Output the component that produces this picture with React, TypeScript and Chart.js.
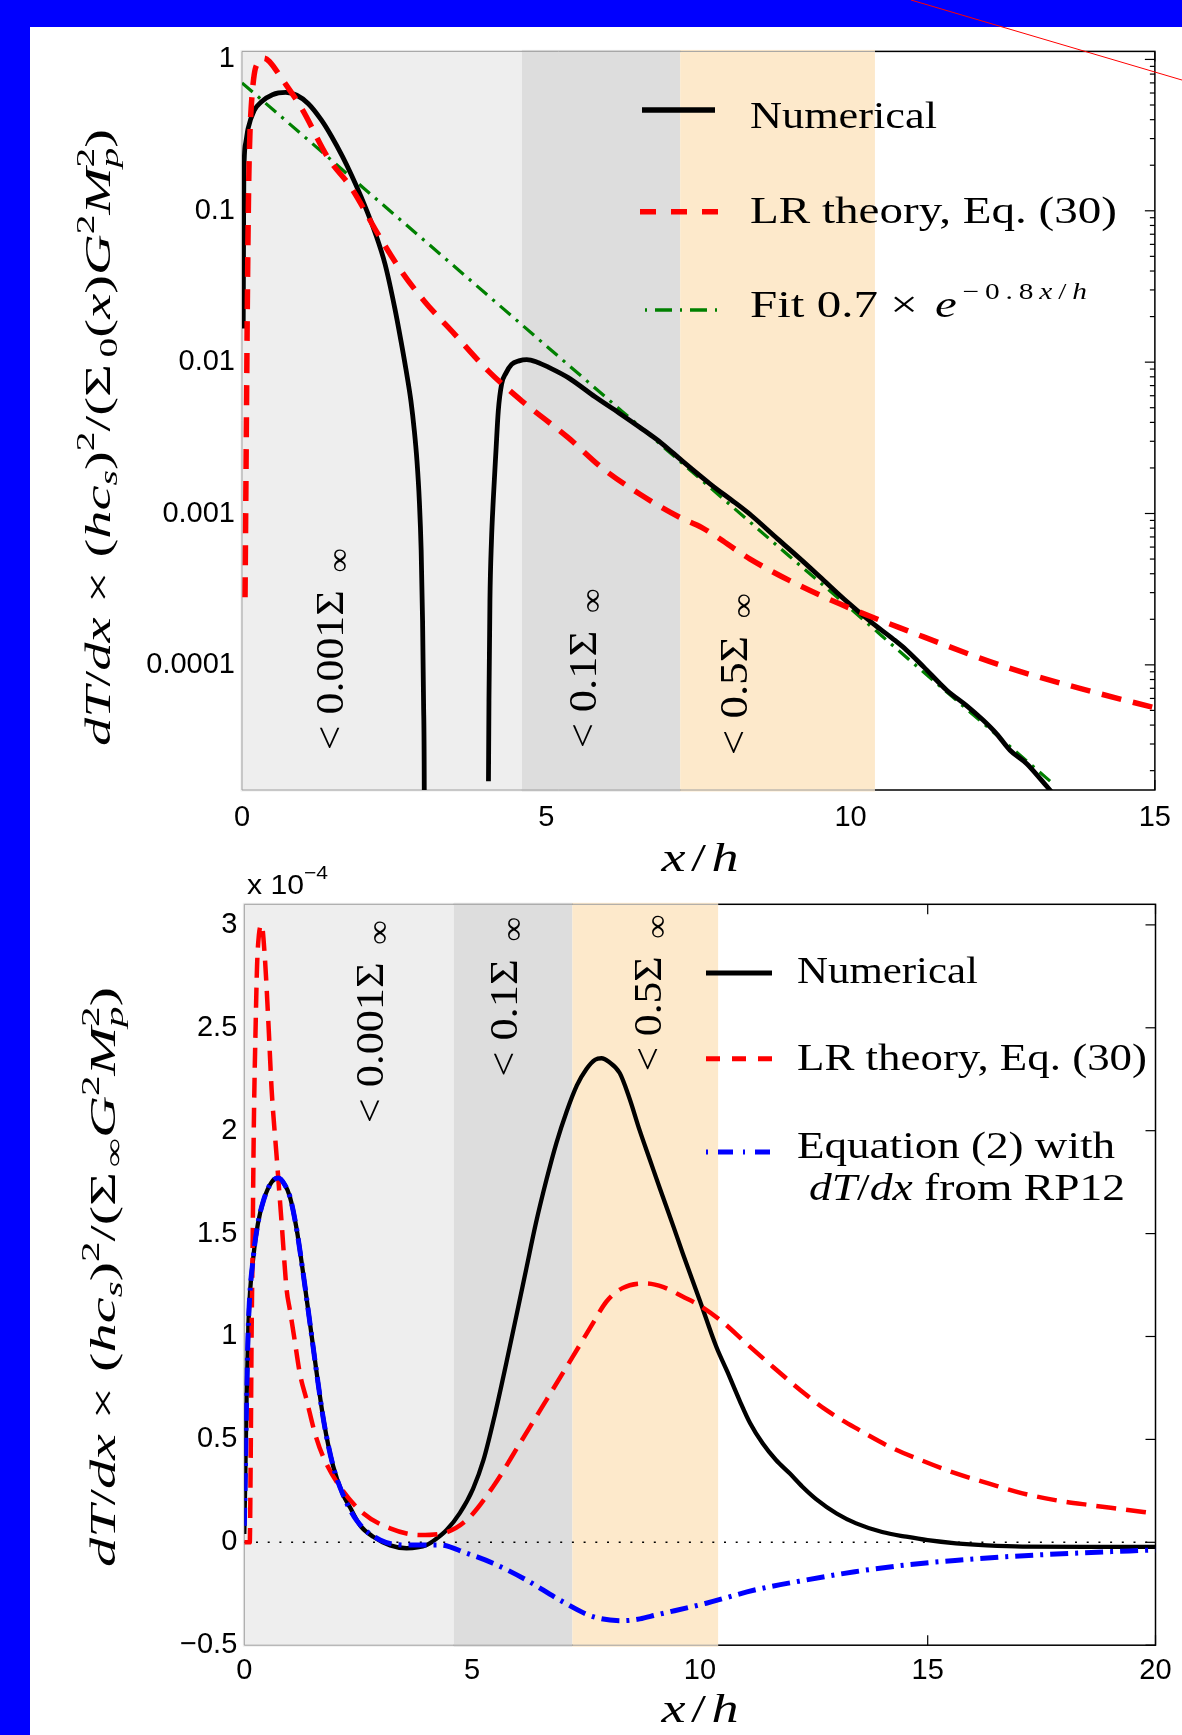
import React, { useEffect, useRef } from 'react';
import { Chart, registerables } from 'chart.js';

Chart.register(...registerables);

// ================= TOP PANEL (log scale) =================
const topXTicks = [0, 5, 10, 15];
const topYTickLabels = ['1', '0.1', '0.01', '0.001', '0.0001'];

// Numerical, first branch (goes negative near x = 3)
const topNumAX = [0.02, 0.025, 0.03, 0.06, 0.1, 0.2, 0.32, 0.5, 0.72, 0.9, 1.09, 1.3, 1.47, 1.65, 1.8, 2.0, 2.19, 2.35, 2.51, 2.613, 2.699, 2.776, 2.832, 2.875, 2.914, 2.944, 2.967, 2.983, 2.995, 3.005];
const topNumAY = [0.0167, 0.06, 0.17, 0.28, 0.35, 0.46, 0.525, 0.585, 0.605, 0.58, 0.51, 0.4, 0.311, 0.2287, 0.1717, 0.1125, 0.0712, 0.0445, 0.0228, 0.01375, 0.00872, 0.00553, 0.00351, 0.002226, 0.001213, 0.000568, 0.000196, 0.0000582, 0.0000149, 0.0000001];
// Numerical, second branch
const topNumBX = [4.05, 4.058, 4.074, 4.099, 4.128, 4.173, 4.211, 4.266, 4.337, 4.43, 4.55, 4.68, 4.85, 5.05, 5.36, 5.8, 6.2, 6.54, 6.9, 7.22, 7.7, 8.1, 8.37, 8.8, 9.2, 9.5, 9.9, 10.37, 10.7, 10.92, 11.2, 11.58, 11.9, 12.18, 12.4, 12.62, 12.89, 13.1, 13.3];
const topNumBY = [0.000017, 0.000058, 0.000266, 0.00066, 0.00121, 0.00259, 0.00475, 0.00716, 0.00846, 0.00966, 0.0102, 0.0104, 0.01, 0.0092, 0.0079, 0.0059, 0.0046, 0.0037, 0.0029, 0.00225, 0.00156, 0.00118, 0.00097, 0.00068, 0.00049, 0.00038, 0.00027, 0.000187, 0.000148, 0.000125, 0.000097, 0.000068, 0.000054, 0.000043, 0.000035, 0.0000273, 0.0000223, 0.000018, 0.0000145];
// LR theory, Eq. (30)
const topLrX = [0.05, 0.07, 0.09, 0.11, 0.13, 0.15, 0.2, 0.27, 0.36, 0.45, 0.65, 0.98, 1.42, 1.8, 2.24, 2.62, 3.0, 3.5, 4.05, 4.6, 5.36, 5.91, 6.54, 7.2, 7.55, 8.35, 9.0, 9.82, 10.92, 12.56, 14.0, 15.0];
const topLrY = [0.00028, 0.003, 0.03, 0.15, 0.32, 0.475, 0.79, 0.96, 1.02, 0.97, 0.75, 0.475, 0.222, 0.141, 0.0695, 0.0398, 0.0252, 0.0152, 0.00873, 0.00553, 0.00317, 0.00201, 0.00134, 0.00094, 0.00081, 0.0005, 0.00036, 0.000253, 0.000169, 0.0000966, 0.000066, 0.000052];
// Fit 0.7 x exp(-0.8 x/h)
const topFitX = [0, 1, 2, 3, 4, 5, 6, 7, 8, 9, 10, 11, 12, 13, 13.35];
const topFitY = [0.7, 0.315, 0.141, 0.0635, 0.0285, 0.0128, 0.00576, 0.00259, 0.00116, 0.00052, 0.000235, 0.000105, 0.0000474, 0.0000213, 0.0000161];

// ================= BOTTOM PANEL (linear, x 10^-4) =================
const botXTicks = [0, 5, 10, 15, 20];
const botYTicks = [-0.5, 0, 0.5, 1, 1.5, 2, 2.5, 3];

const botNumX = [0, 0.02, 0.05, 0.09, 0.2, 0.3, 0.42, 0.6, 0.75, 0.88, 1.0, 1.15, 1.29, 1.45, 1.59, 1.75, 1.95, 2.15, 2.32, 2.55, 2.83, 3.2, 3.56, 3.8, 4.0, 4.2, 4.44, 4.73, 5.02, 5.25, 5.5, 5.75, 6.0, 6.19, 6.4, 6.63, 6.85, 7.07, 7.3, 7.51, 7.7, 7.84, 8.0, 8.24, 8.45, 8.68, 8.9, 9.12, 9.41, 9.63, 9.99, 10.36, 10.6, 10.87, 11.1, 11.38, 11.67, 11.97, 12.25, 12.55, 13.0, 13.43, 14.0, 14.53, 15.0, 15.62, 16.3, 17.08, 18.5, 20];
const botNumY = [0.04, 0.3, 0.7, 1.06, 1.39, 1.55, 1.66, 1.75, 1.77, 1.74, 1.68, 1.52, 1.31, 1.05, 0.82, 0.58, 0.37, 0.24, 0.17, 0.08, 0.027, -0.015, -0.029, -0.025, -0.013, 0.015, 0.06, 0.142, 0.26, 0.4, 0.62, 0.87, 1.13, 1.33, 1.55, 1.76, 1.94, 2.09, 2.22, 2.3, 2.345, 2.352, 2.335, 2.28, 2.16, 2.0, 1.86, 1.72, 1.54, 1.4, 1.18, 0.95, 0.83, 0.69, 0.58, 0.48, 0.4, 0.335, 0.27, 0.21, 0.14, 0.092, 0.05, 0.027, 0.01, -0.005, -0.015, -0.021, -0.022, -0.022];

const botLrX = [0, 0.12, 0.14, 0.16, 0.18, 0.21, 0.25, 0.28, 0.32, 0.38, 0.45, 0.53, 0.6, 0.71, 0.82, 0.93, 1.0, 1.1, 1.22, 1.37, 1.55, 1.73, 2.1, 2.61, 3.2, 3.85, 4.36, 4.88, 5.46, 6.05, 6.63, 7.21, 7.65, 7.95, 8.3, 8.82, 9.2, 9.63, 10.0, 10.5, 11.0, 11.6, 12.2, 12.77, 13.5, 14.16, 14.9, 15.62, 16.35, 17.08, 17.8, 18.55, 19.3, 20];
const botLrY = [0, 0, 0.4, 1.0, 1.39, 2.04, 2.52, 2.8, 2.95, 3.0, 2.845, 2.52, 2.2, 1.874, 1.55, 1.226, 1.13, 0.99, 0.82, 0.69, 0.53, 0.416, 0.27, 0.141, 0.068, 0.035, 0.044, 0.108, 0.27, 0.481, 0.691, 0.902, 1.064, 1.17, 1.235, 1.258, 1.24, 1.193, 1.15, 1.07, 0.97, 0.853, 0.74, 0.643, 0.545, 0.465, 0.395, 0.335, 0.285, 0.238, 0.205, 0.181, 0.16, 0.14];

const botEqX = [0, 0.02, 0.05, 0.09, 0.2, 0.3, 0.42, 0.6, 0.75, 0.88, 1.0, 1.15, 1.29, 1.45, 1.59, 1.75, 1.95, 2.15, 2.46, 2.98, 3.56, 4.29, 4.88, 5.46, 6.19, 6.92, 7.65, 8.31, 8.68, 9.04, 10.14, 11.2, 12.33, 13.4, 14.53, 15.6, 16.72, 18.3, 20];
const botEqY = [0.08, 0.3, 0.7, 1.06, 1.39, 1.55, 1.66, 1.75, 1.77, 1.74, 1.68, 1.52, 1.31, 1.05, 0.82, 0.58, 0.37, 0.24, 0.108, 0.011, -0.013, -0.013, -0.053, -0.102, -0.183, -0.28, -0.361, -0.381, -0.372, -0.353, -0.296, -0.232, -0.183, -0.143, -0.11, -0.088, -0.07, -0.052, -0.037];

const zeroX = [0, 20];
const zeroY = [0, 0];

// Shaded regions (x/h edges) and their labels
const bandEdges = [0, 4.6, 7.2, 10.4];
const bandColors = ['#eeeeee', '#dddddd', '#fde9cb'];
const bandText = ['< 0.001Σ', '< 0.1Σ', '< 0.5Σ'];

const topLegendText = ['Numerical', 'LR theory, Eq. (30)', 'Fit 0.7 × '];
const botLegendText = ['Numerical', 'LR theory, Eq. (30)', 'Equation (2) with', ' from RP12'];

// ================= helpers =================
const SERIF = "'Liberation Serif', 'DejaVu Serif', serif";
const SANS = "'Liberation Sans', Arial, sans-serif";

type Seg = { t: string; it?: boolean; s?: number; dy?: number; gap?: number };

const pts = (xs: number[], ys: number[]) => xs.map((x, i) => ({ x, y: ys[i] }));

function fontOf(sg: Seg, size: number, fam: string) {
  return `${sg.it ? 'italic ' : ''}${(size * (sg.s ?? 1)).toFixed(2)}px ${fam}`;
}

function drawRich(ctx: CanvasRenderingContext2D, segs: Seg[], x: number, y: number, size: number, fam: string, target?: number, align: 'left' | 'center' = 'left') {
  let w = 0;
  const ws = segs.map((sg) => {
    ctx.font = fontOf(sg, size, fam);
    const m = ctx.measureText(sg.t).width;
    w += (sg.gap ?? 0) * size + m;
    return m;
  });
  const sx = target ? target / w : 1;
  ctx.save();
  ctx.translate(align === 'center' ? x - (w * sx) / 2 : x, y);
  ctx.scale(sx, 1);
  ctx.fillStyle = '#000';
  ctx.textAlign = 'left';
  ctx.textBaseline = 'alphabetic';
  let cx = 0;
  segs.forEach((sg, i) => {
    cx += (sg.gap ?? 0) * size;
    ctx.font = fontOf(sg, size, fam);
    ctx.fillText(sg.t, cx, -(sg.dy ?? 0) * size);
    cx += ws[i];
  });
  ctx.restore();
}

function seg(ctx: CanvasRenderingContext2D, x0: number, y0: number, x1: number, y1: number) {
  ctx.beginPath();
  ctx.moveTo(x0, y0);
  ctx.lineTo(x1, y1);
  ctx.stroke();
}

function legendLine(ctx: CanvasRenderingContext2D, x0: number, x1: number, y: number, color: string, width: number, dash: number[]) {
  ctx.save();
  ctx.strokeStyle = color;
  ctx.lineWidth = width;
  ctx.lineCap = 'butt';
  ctx.setLineDash(dash);
  seg(ctx, x0, y, x1, y);
  ctx.restore();
}

function ds(label: string, data: any[], color: string, width: number, dash: number[], order: number) {
  return {
    label, data, borderColor: color, backgroundColor: color, borderWidth: width, borderDash: dash,
    pointRadius: 0, fill: false, cubicInterpolationMode: 'monotone', order, borderCapStyle: 'butt',
  };
}

type Decor = {
  id: string;
  yMajor: number[];
  yMinor: number[];
  xTicks: number[];
  regions: { x: number; y: number; len: number }[];
  legendLines: { x0: number; x1: number; y: number; color: string; width: number; dash: number[] }[];
  legendTexts: { segs: Seg[]; x: number; y: number; w: number }[];
  yTitle: { segs: Seg[]; x: number; y: number; len: number };
  xTitle: { x: number; y: number };
  extra?: { segs: Seg[]; x: number; y: number; w: number };
};

function makeDecor(d: Decor) {
  return {
    id: d.id,
    beforeDatasetsDraw(chart: any) {
      const { ctx, chartArea: ca } = chart;
      const xs = chart.scales.x;
      const ys = chart.scales.y;
      const inY = (v: number) => v >= ys.min - 1e-12 && v <= ys.max + 1e-12;
      ctx.save();
      ctx.setLineDash([]);
      ctx.strokeStyle = '#000';
      ctx.lineWidth = 1.5;
      ctx.strokeRect(ca.left, ca.top, ca.right - ca.left, ca.bottom - ca.top);
      ctx.lineWidth = 1.2;
      d.yMajor.forEach((v) => {
        if (!inY(v)) return;
        const p = ys.getPixelForValue(v);
        seg(ctx, ca.right - 10, p, ca.right, p);
        seg(ctx, ca.left, p, ca.left + 10, p);
      });
      d.yMinor.forEach((v) => {
        if (!inY(v)) return;
        const p = ys.getPixelForValue(v);
        seg(ctx, ca.right - 5, p, ca.right, p);
      });
      d.xTicks.forEach((v) => {
        const p = xs.getPixelForValue(v);
        seg(ctx, p, ca.bottom, p, ca.bottom - 10);
        seg(ctx, p, ca.top, p, ca.top + 10);
      });
      // shaded bands
      for (let i = 0; i < bandColors.length; i++) {
        const a = xs.getPixelForValue(bandEdges[i]);
        const b = xs.getPixelForValue(bandEdges[i + 1]);
        const l = i === 0 ? a - 1.5 : a;
        ctx.fillStyle = bandColors[i];
        ctx.fillRect(l, ca.top - 1.5, b - l, ca.bottom - ca.top + 3);
      }
      const b0 = xs.getPixelForValue(bandEdges[0]);
      const b1 = xs.getPixelForValue(bandEdges[bandEdges.length - 1]);
      ctx.strokeStyle = '#a0a0a0';
      ctx.lineWidth = 1;
      seg(ctx, b0, ca.top, b1, ca.top);
      seg(ctx, b0, ca.bottom, b1, ca.bottom);
      seg(ctx, b0, ca.top, b0, ca.bottom);
      // region labels (rotated)
      d.regions.forEach((r, i) => {
        const px = xs.getPixelForValue(r.x);
        const py = ys.getPixelForValue(r.y);
        ctx.save();
        ctx.translate(px, py);
        ctx.rotate(-Math.PI / 2);
        drawRich(ctx, [{ t: bandText[i] }, { t: '∞', s: 0.78, dy: -0.15, gap: 0.4 }], 0, 0, 40, SERIF, r.len);
        ctx.restore();
      });
      ctx.restore();
    },
    afterDraw(chart: any) {
      const { ctx } = chart;
      ctx.save();
      d.legendLines.forEach((l) => legendLine(ctx, l.x0, l.x1, l.y, l.color, l.width, l.dash));
      d.legendTexts.forEach((t) => drawRich(ctx, t.segs, t.x, t.y, 38, SERIF, t.w));
      ctx.save();
      ctx.translate(d.yTitle.x, d.yTitle.y);
      ctx.rotate(-Math.PI / 2);
      drawRich(ctx, d.yTitle.segs, 0, 0, 35, SERIF, d.yTitle.len);
      ctx.restore();
      drawRich(ctx, [{ t: 'x', it: true }, { t: '/', gap: 0.1 }, { t: 'h', it: true, gap: 0.1 }], d.xTitle.x, d.xTitle.y, 40, SERIF, 77, 'center');
      if (d.extra) drawRich(ctx, d.extra.segs, d.extra.x, d.extra.y, 27, SANS, d.extra.w);
      ctx.restore();
    },
  };
}

const decades = [-5, -4, -3, -2, -1, 0];
const logMajor = decades.map((e) => Math.pow(10, e));
const logMinor = decades.flatMap((e) => [2, 3, 4, 5, 6, 7, 8, 9].map((k) => k * Math.pow(10, e)));

const tickFont = { family: SANS, size: 29 };

const TOP_YMIN = 1.49e-5;
const TOP_YMAX = 1.13;

function topConfig(): any {
  const yTitle: Seg[] = [
    { t: 'dT', it: true }, { t: '/' }, { t: 'dx', it: true }, { t: ' × ' },
    { t: '(' }, { t: 'hc', it: true }, { t: 's', it: true, s: 0.7, dy: -0.2 }, { t: ')' }, { t: '2', s: 0.7, dy: 0.45 },
    { t: '/(' }, { t: 'Σ' }, { t: '0', s: 0.7, dy: -0.2, gap: 0.12 }, { t: '(' }, { t: 'x', it: true }, { t: ')' },
    { t: 'G', it: true }, { t: '2', s: 0.7, dy: 0.45 }, { t: 'M', it: true }, { t: 'p', it: true, s: 0.7, dy: -0.22 },
    { t: '2', s: 0.7, dy: 0.45, gap: -0.35 }, { t: ')' },
  ];
  const expo: Seg[] = ['−', '0', '.', '8'].map((c) => ({ t: c, s: 0.6, dy: 0.46, gap: 0.12 }));
  const fitSegs: Seg[] = [
    { t: topLegendText[2] }, { t: 'e', it: true, gap: 0.1 }, ...expo,
    { t: 'x', it: true, s: 0.6, dy: 0.46, gap: 0.12 }, { t: '/', s: 0.6, dy: 0.46, gap: 0.12 }, { t: 'h', it: true, s: 0.6, dy: 0.46, gap: 0.12 },
  ];
  return {
    type: 'line',
    data: {
      datasets: [
        ds('Numerical', pts(topNumAX, topNumAY), '#000000', 4.8, [], 1),
        ds('Numerical (2)', pts(topNumBX, topNumBY), '#000000', 4.8, [], 1),
        ds('LR theory, Eq. (30)', pts(topLrX, topLrY), '#ff0000', 5.5, [20, 12], 0),
        ds('Fit', pts(topFitX, topFitY), '#008000', 3.2, [14, 7, 3, 7], 2),
      ],
    },
    options: {
      animation: false,
      responsive: false,
      maintainAspectRatio: false,
      devicePixelRatio: 1,
      events: [],
      layout: { padding: { left: 0, right: 27, top: 22.5, bottom: 0 } },
      plugins: { legend: { display: false }, tooltip: { enabled: false } },
      scales: {
        x: {
          type: 'linear', min: 0, max: 15,
          grid: { display: false, drawTicks: false }, border: { display: false },
          ticks: { stepSize: 5, autoSkip: false, maxRotation: 0, font: tickFont, color: '#000', padding: 11, callback: (v: number) => String(v) },
          afterBuildTicks: (s: any) => { s.ticks = topXTicks.map((v) => ({ value: v })); },
          afterFit: (s: any) => { s.height = 100; },
        },
        y: {
          type: 'logarithmic', min: TOP_YMIN, max: TOP_YMAX,
          grid: { display: false, drawTicks: false }, border: { display: false },
          ticks: {
            autoSkip: false, font: tickFont, color: '#000', padding: 7,
            callback: (v: number) => {
              const r = Math.round(Math.log10(v));
              return topYTickLabels[-r] ?? '';
            },
          },
          afterBuildTicks: (s: any) => {
            s.ticks = logMajor.filter((v) => v >= TOP_YMIN && v <= TOP_YMAX).map((v) => ({ value: v, major: true }));
          },
          afterFit: (s: any) => { s.width = 212; },
        },
      },
    },
    plugins: [
      makeDecor({
        id: 'topDecor',
        yMajor: logMajor,
        yMinor: logMinor,
        xTicks: topXTicks,
        regions: [
          { x: 1.66, y: 2.73e-5, len: 202 },
          { x: 5.82, y: 2.81e-5, len: 160 },
          { x: 8.3, y: 2.53e-5, len: 162 },
        ],
        legendLines: [
          { x0: 612, x1: 685, y: 83, color: '#000000', width: 5.5, dash: [] },
          { x0: 610, x1: 688, y: 184.7, color: '#ff0000', width: 5.5, dash: [16, 15] },
          { x0: 615, x1: 690, y: 283, color: '#008000', width: 3.5, dash: [2, 8, 17, 8] },
        ],
        legendTexts: [
          { segs: [{ t: topLegendText[0] }], x: 720, y: 101.3, w: 187 },
          { segs: [{ t: topLegendText[1] }], x: 720, y: 196.3, w: 367 },
          { segs: fitSegs, x: 720, y: 289.7, w: 337 },
        ],
        yTitle: { segs: yTitle, x: 80, y: 719, len: 617 },
        xTitle: { x: 670, y: 844 },
      }),
    ],
  };
}

function botConfig(): any {
  const yTitle: Seg[] = [
    { t: 'dT', it: true }, { t: '/' }, { t: 'dx', it: true }, { t: ' × ' },
    { t: '(' }, { t: 'hc', it: true }, { t: 's', it: true, s: 0.7, dy: -0.2 }, { t: ')' }, { t: '2', s: 0.7, dy: 0.45 },
    { t: '/(' }, { t: 'Σ' }, { t: '∞', s: 0.7, dy: -0.2, gap: 0.08 },
    { t: 'G', it: true }, { t: '2', s: 0.7, dy: 0.45 }, { t: 'M', it: true }, { t: 'p', it: true, s: 0.7, dy: -0.22 },
    { t: '2', s: 0.7, dy: 0.45, gap: -0.35 }, { t: ')' },
  ];
  return {
    type: 'line',
    data: {
      datasets: [
        ds('zero', pts(zeroX, zeroY), '#000000', 1.4, [2, 9.7], 3),
        ds('Numerical', pts(botNumX, botNumY), '#000000', 4.3, [], 2),
        ds('LR theory, Eq. (30)', pts(botLrX, botLrY), '#ff0000', 4.5, [20, 10], 1),
        ds('Equation (2) with dT/dx from RP12', pts(botEqX, botEqY), '#0000ff', 5, [18, 7, 3, 7], 0),
      ],
    },
    options: {
      animation: false,
      responsive: false,
      maintainAspectRatio: false,
      devicePixelRatio: 1,
      events: [],
      layout: { padding: { left: 0, right: 26.5, top: 54.3, bottom: 0 } },
      plugins: { legend: { display: false }, tooltip: { enabled: false } },
      scales: {
        x: {
          type: 'linear', min: 0, max: 20,
          grid: { display: false, drawTicks: false }, border: { display: false },
          ticks: { stepSize: 5, autoSkip: false, maxRotation: 0, font: tickFont, color: '#000', padding: 8, callback: (v: number) => String(v) },
          afterBuildTicks: (s: any) => { s.ticks = botXTicks.map((v) => ({ value: v })); },
          afterFit: (s: any) => { s.height = 89.8; },
        },
        y: {
          type: 'linear', min: -0.5, max: 3.1,
          grid: { display: false, drawTicks: false }, border: { display: false },
          ticks: {
            autoSkip: false, font: tickFont, color: '#000', padding: 7,
            callback: (v: number) => (v < 0 ? '\u2212' + String(Math.abs(v)) : String(v)),
          },
          afterBuildTicks: (s: any) => { s.ticks = botYTicks.map((v) => ({ value: v })); },
          afterFit: (s: any) => { s.width = 214.3; },
        },
      },
    },
    plugins: [
      makeDecor({
        id: 'botDecor',
        yMajor: botYTicks,
        yMinor: [],
        xTicks: botXTicks,
        regions: [
          { x: 3.04, y: 2.036, len: 203 },
          { x: 5.98, y: 2.262, len: 160 },
          { x: 9.14, y: 2.287, len: 157 },
        ],
        legendLines: [
          { x0: 676, x1: 742, y: 123, color: '#000000', width: 5, dash: [] },
          { x0: 676, x1: 742, y: 208.8, color: '#ff0000', width: 5, dash: [14, 12] },
          { x0: 676, x1: 742, y: 302, color: '#0000ff', width: 5, dash: [2, 10, 15, 10] },
        ],
        legendTexts: [
          { segs: [{ t: botLegendText[0] }], x: 767, y: 132.6, w: 181 },
          { segs: [{ t: botLegendText[1] }], x: 767, y: 220, w: 350 },
          { segs: [{ t: botLegendText[2] }], x: 767, y: 307.6, w: 318 },
          { segs: [{ t: 'dT', it: true }, { t: '/' }, { t: 'dx', it: true }, { t: botLegendText[3] }], x: 779, y: 350, w: 316 },
        ],
        yTitle: { segs: yTitle, x: 85, y: 717, len: 580 },
        xTitle: { x: 670, y: 872 },
        extra: { segs: [{ t: 'x 10' }, { t: '\u22124', s: 0.7, dy: 0.55 }], x: 217, y: 44, w: 81 },
      }),
    ],
  };
}

export default function App() {
  const topRef = useRef<HTMLCanvasElement>(null);
  const botRef = useRef<HTMLCanvasElement>(null);

  useEffect(() => {
    const c1 = new Chart(topRef.current as HTMLCanvasElement, topConfig());
    const c2 = new Chart(botRef.current as HTMLCanvasElement, botConfig());
    return () => {
      c1.destroy();
      c2.destroy();
    };
  }, []);

  return (
    <div style={{ position: 'absolute', left: 0, top: 0, width: 1182, height: 1735, background: '#0000ff', overflow: 'hidden' }}>
      <div style={{ position: 'absolute', left: 30, top: 27, width: 1152, height: 1708, background: '#ffffff' }} />
      <canvas ref={topRef} width={1152} height={863} style={{ position: 'absolute', left: 30, top: 27, width: 1152, height: 863 }} />
      <canvas ref={botRef} width={1152} height={885} style={{ position: 'absolute', left: 30, top: 850, width: 1152, height: 885 }} />
      <svg width={1182} height={1735} style={{ position: 'absolute', left: 0, top: 0, pointerEvents: 'none' }}>
        <line x1={911} y1={0} x2={1190} y2={82.4} stroke="#ff0000" strokeWidth={1} />
      </svg>
    </div>
  );
}
